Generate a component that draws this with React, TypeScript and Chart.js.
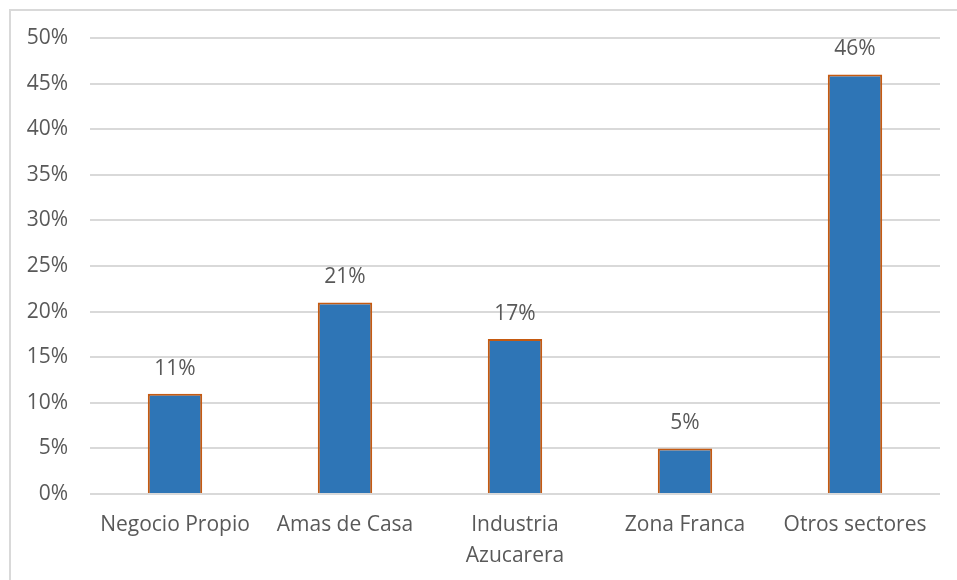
import React, { useEffect, useRef } from "react";
import { Chart, registerables } from "chart.js";

Chart.register(...registerables);

const categories: (string | string[])[] = [
  "Negocio Propio",
  "Amas de Casa",
  ["Industria", "Azucarera"],
  "Zona Franca",
  "Otros sectores",
];
const values: number[] = [11, 21, 17, 5, 46];
const yTicks: number[] = [0, 5, 10, 15, 20, 25, 30, 35, 40, 45, 50];

const FONT = "'Open Sans', 'Liberation Sans', sans-serif";
const TEXT = "#595959";

const labelPlugin = {
  id: "barLabels",
  afterDatasetsDraw(chart: any) {
    const ctx = chart.ctx;
    const meta = chart.getDatasetMeta(0);
    ctx.save();
    ctx.font = `21px ${FONT}`;
    ctx.fillStyle = TEXT;
    ctx.textAlign = "center";
    ctx.textBaseline = "middle";
    meta.data.forEach((bar: any, i: number) => {
      ctx.fillText(values[i] + "%", bar.x, bar.y - 25);
    });
    ctx.restore();
  },
};

export default function App() {
  const ref = useRef<HTMLCanvasElement | null>(null);
  useEffect(() => {
    document.body.style.margin = "0";
    const chart = new Chart(ref.current as HTMLCanvasElement, {
      type: "bar",
      data: {
        labels: categories as any,
        datasets: [
          {
            data: values,
            backgroundColor: "#2E75B6",
            borderColor: "#C55A11",
            borderWidth: 2,
            barPercentage: 0.64,
            categoryPercentage: 0.5,
          },
        ],
      },
      options: {
        animation: false,
        responsive: false,
        maintainAspectRatio: false,
        layout: { padding: { top: 38, right: 17, left: 0, bottom: 0 } },
        plugins: {
          legend: { display: false },
          tooltip: { enabled: false },
        },
        scales: {
          x: {
            grid: { display: false, drawTicks: false },
            border: { display: false },
            ticks: {
              color: TEXT,
              font: { family: FONT, size: 21, lineHeight: 1.45 },
              padding: 16,
              maxRotation: 0,
              autoSkip: false,
            },
            afterFit: (s: any) => {
              s.height = 86;
            },
          },
          y: {
            min: 0,
            max: 50,
            afterBuildTicks: (s: any) => {
              s.ticks = yTicks.map((v) => ({ value: v }));
            },
            grid: { color: "#D9D9D9", lineWidth: 2, drawTicks: false },
            border: { display: false },
            ticks: {
              color: TEXT,
              font: { family: FONT, size: 21 },
              padding: 22,
              callback: (v: any) => v + "%",
            },
            afterFit: (s: any) => {
              s.width = 90;
            },
          },
        },
      },
      plugins: [labelPlugin],
    });
    return () => chart.destroy();
  }, []);
  return (
    <div style={{ position: "fixed", left: 0, top: 0, width: 957, height: 580, background: "#fff", overflow: "hidden" }}>
      <div
        style={{
          position: "absolute",
          left: 9,
          top: 9,
          width: 960,
          height: 600,
          border: "2px solid #D9D9D9",
          boxSizing: "border-box",
        }}
      />
      <canvas ref={ref} width={957} height={580} style={{ position: "absolute", left: 0, top: 0 }} />
    </div>
  );
}
